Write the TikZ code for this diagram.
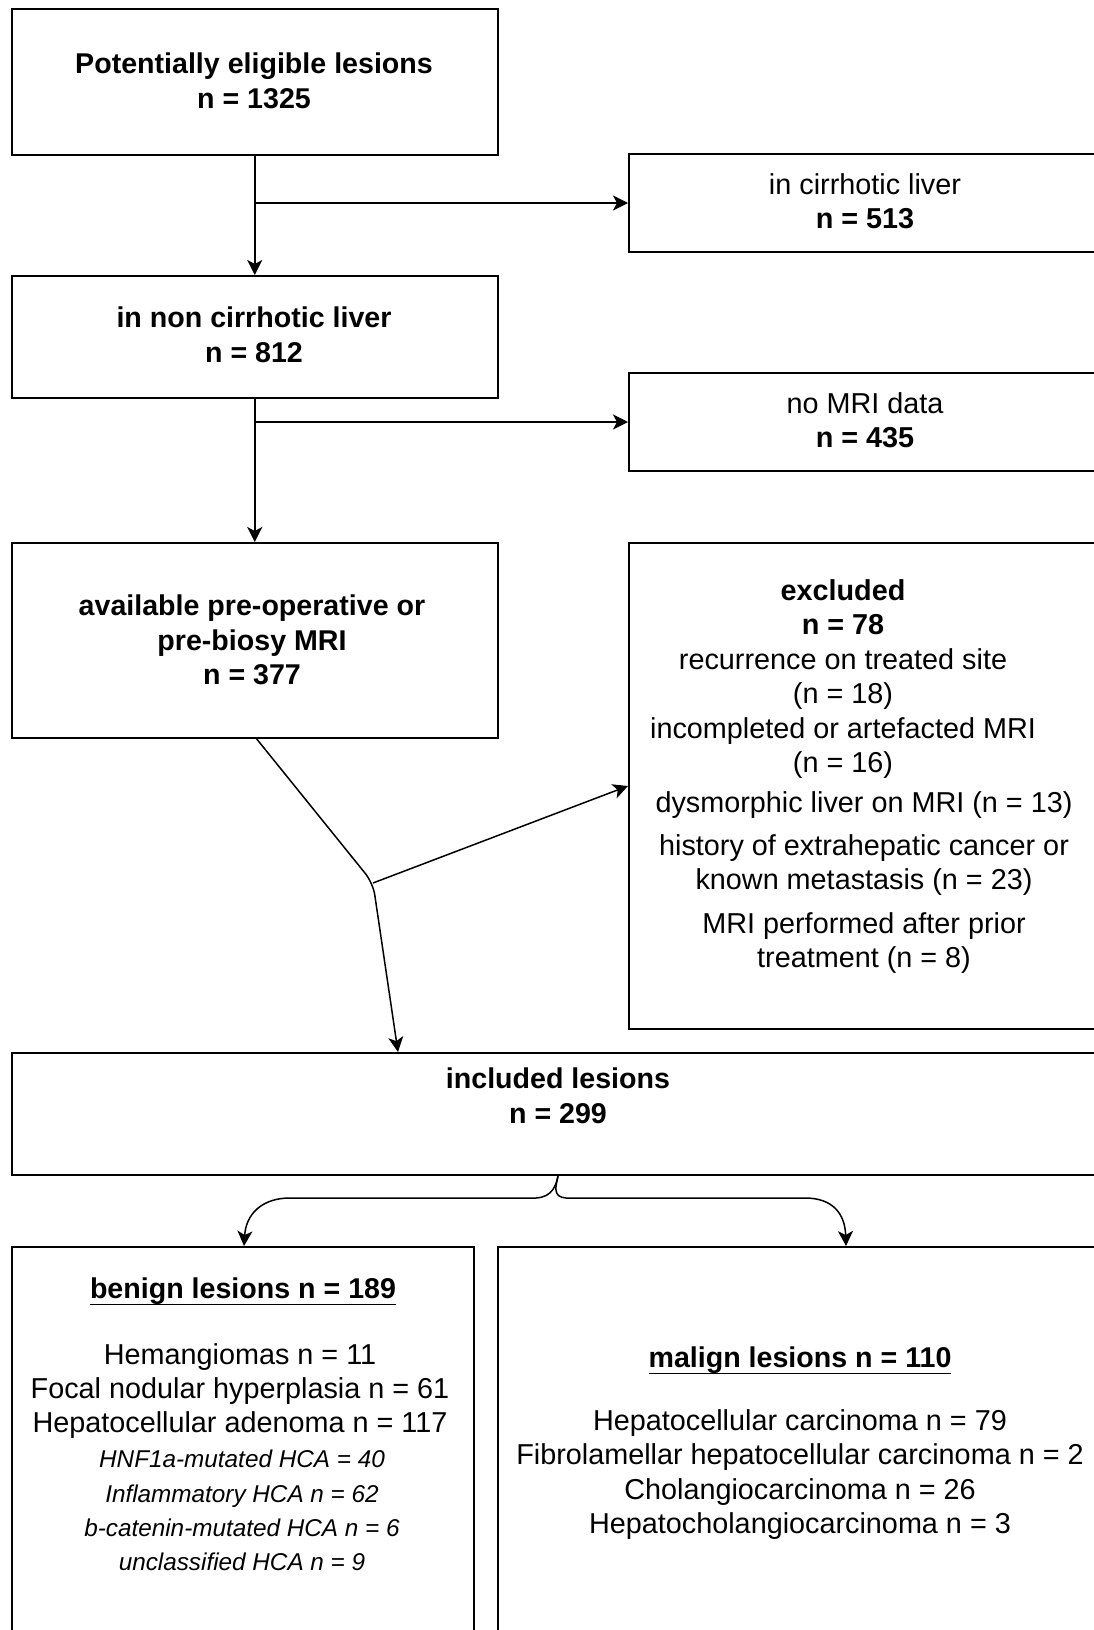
\documentclass[tikz,border=0pt]{standalone}
\usepackage{fontspec}
\setmainfont{Liberation Sans}
\usetikzlibrary{arrows.meta}
\newcommand\myul[1]{\leavevmode\vtop{\hbox{#1}\kern-0.5pt\hrule height 1.8pt}}
\tikzset{
  box/.style={draw=black, line width=2pt, inner sep=0pt, fill=none},
  txt/.style={inner sep=0pt, align=center, font=\fontsize{28.8}{34.4}\selectfont},
  bt/.style={inner sep=0pt, align=center, font=\fontsize{28.6}{34.6}\selectfont\bfseries},
  itx/.style={inner sep=0pt, align=center, font=\fontsize{24.3}{34.3}\selectfont\itshape},
  arr/.style={line width=1.8pt, -{Stealth[length=15pt,width=15pt,inset=4pt]}},
  thinarr/.style={line width=1.5pt, -{Stealth[length=15pt,width=15pt,inset=4pt]}}
}
\begin{document}
\begin{tikzpicture}[x=1pt,y=-1pt]
\useasboundingbox (0,0) rectangle (1094,1630);
\fill[white] (0,0) rectangle (1094,1630);
\clip (0,0) rectangle (1094,1630);

% boxes
\node[box, minimum width=486.5pt, minimum height=146pt] (b1) at (254.75,82) {};
\node[box, minimum width=486.5pt, minimum height=122pt] (b2) at (254.75,337) {};
\node[box, minimum width=472pt, minimum height=98pt] (cir) at (865,203) {};
\node[box, minimum width=472pt, minimum height=98pt] (nomri) at (865,422) {};
\node[box, minimum width=486.5pt, minimum height=195pt] (b3) at (254.75,640.5) {};
\node[box, minimum width=472pt, minimum height=486pt] (exc) at (865,786) {};
\node[box, minimum width=1092pt, minimum height=122pt] (inc) at (558,1114) {};
\node[box, minimum width=462pt, minimum height=433pt] (ben) at (243,1463.5) {};
\node[box, minimum width=604pt, minimum height=433pt] (mal) at (800,1463.5) {};

% texts
\node[bt] (t1) at (254,80.5) {Potentially eligible lesions\\n = 1325};
\node[bt] (t2) at (254,335) {in non cirrhotic liver\\n = 812};
\node[txt] (t3) at (865,201.5) {in cirrhotic liver\\{\bfseries n = 513}};
\node[txt] (t4) at (865,420.5) {no MRI data\\{\bfseries n = 435}};
\node[bt] (t5) at (252,640) {available pre-operative or\\pre-biosy MRI\\n = 377};
\node[txt] (t6) at (843,679) {{\bfseries excluded}\\{\bfseries n = 78}\\recurrence on treated site\\(n = 18)\\incompleted or artefacted MRI\\(n = 16)};
\node[txt] (t7) at (864,882.5) {dysmorphic liver on MRI (n = 13)\\[8.6pt]history of extrahepatic cancer or\\known metastasis (n = 23)\\[9.6pt]MRI performed after prior\\treatment (n = 8)};
\node[bt] (t8) at (558,1095.5) {included lesions\\n = 299};
\node[bt, anchor=base] (t9) at (243,1298) {\myul{benign lesions n = 189}};
\node[txt] (t10) at (240,1391) {Hemangiomas n = 11\\Focal nodular hyperplasia n = 61\\Hepatocellular adenoma n = 117};
\node[itx] (t11) at (242,1510.5) {HNF1a-mutated HCA = 40\\Inflammatory HCA n = 62\\b-catenin-mutated HCA n = 6\\unclassified HCA n = 9};
\node[bt, anchor=base] (t12) at (800,1367) {\myul{malign lesions n = 110}};
\node[txt] (t13) at (800,1474.5) {Hepatocellular carcinoma n = 79\\Fibrolamellar hepatocellular carcinoma n = 2\\Cholangiocarcinoma n = 26\\Hepatocholangiocarcinoma n = 3};

% connectors
\draw[arr] (b1.south) -- (b2.north);
\draw[arr] (b1.south |- cir.west) -- (cir.west);
\draw[arr] (b2.south) -- (b3.north);
\draw[arr] (b2.south |- nomri.west) -- (nomri.west);
\coordinate (j) at (373,883);
\draw[thinarr, rounded corners=12pt] ([xshift=2pt]b3.south) -- (j) -- ([xshift=-160pt]inc.north);
\draw[thinarr] (j) -- (exc.west);
\draw[thinarr] (inc.south) .. controls (556,1186) and (552,1197) .. (536,1198) -- (290,1198) .. controls (262,1198) and (246,1214) .. ([xshift=1pt]ben.north);
\draw[thinarr] (inc.south) .. controls (556,1186) and (552,1197) .. (566,1198) -- (805,1198) .. controls (833,1198) and (845,1214) .. ([xshift=46pt]mal.north);
\end{tikzpicture}
\end{document}
